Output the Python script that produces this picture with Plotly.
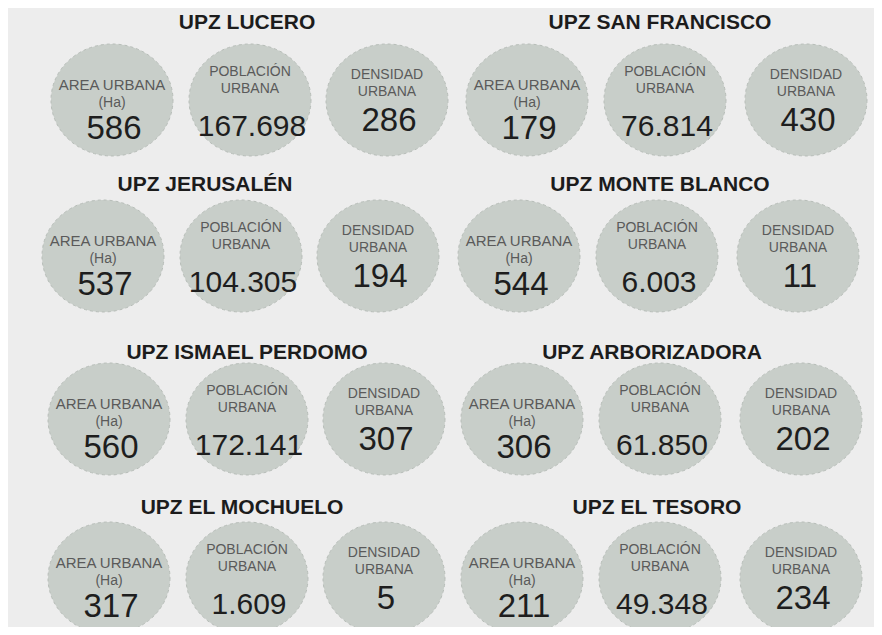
import plotly.graph_objects as go

# ---- data -------------------------------------------------------------
upz_names = [
    "UPZ LUCERO", "UPZ SAN FRANCISCO",
    "UPZ JERUSALÉN", "UPZ MONTE BLANCO",
    "UPZ ISMAEL PERDOMO", "UPZ ARBORIZADORA",
    "UPZ EL MOCHUELO", "UPZ EL TESORO",
]
area_urbana_ha = [586, 179, 537, 544, 560, 306, 317, 211]
poblacion_urbana = [167698, 76814, 104305, 6003, 172141, 61850, 1609, 49348]
densidad_urbana = [286, 430, 194, 11, 307, 202, 5, 234]
label_line1 = ["AREA URBANA", "POBLACIÓN", "DENSIDAD"]
label_line2 = ["(Ha)", "URBANA", "URBANA"]

# ---- layout (pixel grid of the infographic) ---------------------------
# the page body adds an 8px margin, so the figure is 866x619 and the axes
# are given in the reference's own pixel coordinates
W, H = 866, 619
X0, Y0 = 8, 8
RX, RY = 61, 56
COL_X = [[109, 247, 384], [522, 660, 801]]      # left / right group
ROW_SHIFT = [[3, -6, 0, 0], [5, -3, 0, 0]]
ROW_Y = [100, 256, 419, 578]
TITLE_Y = [24, 186, 354, 509]
TITLE_X = [[247, 660], [205, 660], [247, 652], [242, 657]]
LINE1_DY = [-14, -28, -25]
LINE2_DY = [3, -11, -8]
LINE_SIZE = [[15, 14], [14, 14], [14, 14]]
VALUE_DY = [31, 28, 23]
VALUE_SIZE = [33, 30, 33]

BG = "#EDEDED"
CIRCLE = "#C8CEC9"
LABEL_C = "#5A5A5A"
VALUE_C = "#1E1E1E"
FONT = "Liberation Sans, Arial, sans-serif"


def es_num(v):
    return f"{v:,}".replace(",", ".")


def text_trace(x, y, t, size, color, weight="normal"):
    return go.Scatter(
        x=x, y=y, text=t, mode="text", textposition="middle center",
        textfont=dict(family=FONT, size=size, color=color, weight=weight),
        hoverinfo="skip", showlegend=False,
    )


fig = go.Figure()

title_x, title_y = [], []
l1 = {k: ([], [], []) for k in range(3)}
l2 = {k: ([], [], []) for k in range(3)}
val = {k: ([], [], []) for k in range(3)}

for i, name in enumerate(upz_names):
    row, side = divmod(i, 2)
    title_x.append(TITLE_X[row][side])
    title_y.append(TITLE_Y[row])
    values = [area_urbana_ha[i], poblacion_urbana[i], densidad_urbana[i]]
    for k in range(3):
        cx = COL_X[side][k] + ROW_SHIFT[side][row]
        cy = ROW_Y[row]
        fig.add_shape(
            type="circle", xref="x", yref="y",
            x0=cx - RX, x1=cx + RX, y0=cy - RY, y1=cy + RY,
            fillcolor=CIRCLE, line=dict(color="#B7BDB8", width=1, dash="dot"),
            layer="below",
        )
        for store, dy, txt in ((l1, LINE1_DY, label_line1), (l2, LINE2_DY, label_line2)):
            sx, sy, st = store[k]
            sx.append(cx)
            sy.append(cy + dy[k])
            st.append(txt[k])
        vx, vy, vt = val[k]
        vx.append(cx + 2)
        vy.append(cy + VALUE_DY[k])
        vt.append(es_num(values[k]))

fig.add_trace(text_trace(title_x, title_y, upz_names, 21, "#1C1C1C", "bold"))
for k in range(3):
    fig.add_trace(text_trace(*l1[k], LINE_SIZE[k][0], LABEL_C))
    fig.add_trace(text_trace(*l2[k], LINE_SIZE[k][1], LABEL_C))
    fig.add_trace(text_trace(*val[k], VALUE_SIZE[k], VALUE_C))

fig.update_layout(
    width=W, height=H, autosize=False,
    margin=dict(l=0, r=0, t=0, b=0, pad=0),
    paper_bgcolor="#FFFFFF",
    plot_bgcolor=BG,
    xaxis=dict(range=[X0, X0 + W], visible=False, fixedrange=True),
    yaxis=dict(range=[Y0 + H, Y0], visible=False, fixedrange=True),
)

fig.write_html("out.html")
